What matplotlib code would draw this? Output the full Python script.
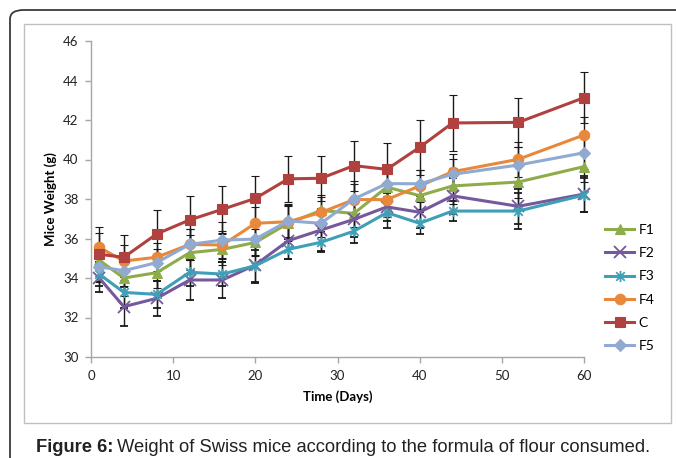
import numpy as np
import matplotlib.pyplot as plt
from matplotlib.path import Path
from matplotlib.patches import FancyBboxPatch, Rectangle

days = [1, 4, 8, 12, 16, 20, 24, 28, 32, 36, 40, 44, 52, 60]

f1 = [34.9, 34.0, 34.27, 35.28, 35.45, 35.8, 36.77, 37.42, 37.27, 38.6, 38.17, 38.66, 38.86, 39.64]
f2 = [34.0, 32.55, 32.97, 33.9, 33.9, 34.66, 35.89, 36.43, 36.97, 37.6, 37.33, 38.16, 37.63, 38.25]
f3 = [34.2, 33.27, 33.17, 34.29, 34.2, 34.62, 35.45, 35.81, 36.37, 37.31, 36.77, 37.39, 37.39, 38.2]
f4 = [35.55, 34.86, 35.05, 35.7, 35.67, 36.77, 36.85, 37.32, 37.97, 37.97, 38.66, 39.38, 40.01, 41.24]
c = [35.2, 35.05, 36.23, 36.94, 37.48, 38.03, 39.02, 39.05, 39.69, 39.5, 40.62, 41.85, 41.88, 43.13]
f5 = [34.57, 34.37, 34.78, 35.7, 35.92, 35.97, 36.89, 36.77, 38.0, 38.78, 38.77, 39.25, 39.72, 40.34]

f1_err = [0.8, 0.9, 0.8, 0.9, 0.8, 0.7, 0.9, 0.8, 0.7, 0.8, 0.7, 0.9, 0.8, 0.8]
f2_err = [0.7, 1.0, 0.9, 1.0, 0.9, 0.93, 0.94, 1.06, 0.9, 0.7, 0.8, 0.9, 0.9, 0.9]
f3_err = [0.6, 0.8, 0.7, 0.7, 0.6, 0.8, 0.5, 0.5, 0.6, 0.76, 0.55, 0.5, 0.9, 0.85]
f4_err = [0.75, 0.8, 0.7, 0.8, 0.7, 0.8, 0.9, 0.8, 0.8, 0.9, 0.8, 0.9, 0.9, 0.9]
c_err = [1.4, 1.15, 1.2, 1.2, 1.2, 1.13, 1.18, 1.13, 1.27, 1.35, 1.4, 1.4, 1.25, 1.3]
f5_err = [0.7, 0.8, 0.7, 0.8, 0.9, 0.8, 0.8, 0.7, 0.9, 0.8, 0.7, 0.8, 0.9, 0.8]

caption_bold = "Figure 6:"
caption_rest = "Weight of Swiss mice according to the formula of flour consumed."

# excel style "star": an X with a vertical bar through it
star = Path(
    [(-1, -1), (1, 1), (-1, 1), (1, -1), (0, -1.3), (0, 1.3)],
    [Path.MOVETO, Path.LINETO, Path.MOVETO, Path.LINETO, Path.MOVETO, Path.LINETO],
)

series = [
    ("F1", f1, f1_err, "#8EAC4A", "^", 7.5),
    ("F2", f2, f2_err, "#76599C", "x", 8),
    ("F3", f3, f3_err, "#3F9FB6", star, 8),
    ("F4", f4, f4_err, "#E8883A", "o", 7.5),
    ("C", c, c_err, "#B0413E", "s", 7.5),
    ("F5", f5, f5_err, "#90AAD2", "D", 6),
]

plt.rcParams["font.family"] = ["Lato", "DejaVu Sans"]

fig = plt.figure(figsize=(6.76, 4.58), dpi=100)
ax = fig.add_axes([91 / 676, 1 - 357 / 458, (584 - 91) / 676, (357 - 41) / 458])

for name, vals, err, col, mk, ms in series:
    hollow = mk == "x" or isinstance(mk, Path)
    ax.errorbar(
        days, vals, yerr=err,
        color=col, ecolor="#1a1a1a", elinewidth=1.0, capsize=2.6, capthick=1.0,
        linewidth=2.2, marker=mk, markersize=ms,
        markerfacecolor="none" if hollow else col,
        markeredgecolor=col, markeredgewidth=1.3 if hollow else 0.8,
        label=name, clip_on=False,
    )

ax.set_xlim(0, 60)
ax.set_ylim(30, 46)
ax.set_xticks(range(0, 61, 10))
ax.set_yticks(range(30, 47, 2))
for s in ("top", "right"):
    ax.spines[s].set_visible(False)
for s in ("left", "bottom"):
    ax.spines[s].set_color("#A6A6A6")
    ax.spines[s].set_linewidth(1.0)
ax.tick_params(colors="#A6A6A6", labelcolor="#222222", length=4, width=1.0,
               labelsize=9.5, pad=5)

ax.set_xlabel("Time (Days)", fontsize=9.5, fontweight="bold", labelpad=6)
ax.set_ylabel("Mice Weight (g)", fontsize=9.5, fontweight="bold", labelpad=4)

handles, labels = ax.get_legend_handles_labels()
handles = [h[0] for h in handles]
ax.legend(handles, labels, loc="center left", bbox_to_anchor=(598 / 676, 1 - 288 / 458),
          bbox_transform=fig.transFigure, frameon=False, fontsize=10,
          handlelength=2.1, handletextpad=0.3, labelspacing=0.8, borderpad=0)

# frames around the chart
fig.patches.append(Rectangle((24 / 676, 1 - 423 / 458), (671 - 24) / 676, (423 - 24) / 458,
                             transform=fig.transFigure, fill=False, edgecolor="#C0C0C0",
                             linewidth=1.0))
fig.patches.append(FancyBboxPatch((10 / 676, -0.2), 1.2, 1.2 - 10 / 458,
                                  boxstyle="round,pad=0,rounding_size=0.02",
                                  transform=fig.transFigure, fill=False,
                                  edgecolor="#3a3a3a", linewidth=1.3))

cap_y = 1 - 447 / 458
t = fig.text(36 / 676, cap_y, caption_bold, fontsize=13.2, fontweight="bold",
             family="Liberation Sans", va="center", ha="left", color="#222222")
fig.canvas.draw()
bb = t.get_window_extent()
fig.text((bb.x1 + 4) / 676, cap_y, caption_rest,
         fontsize=13.2, family="Liberation Sans", va="center", ha="left", color="#222222")

fig.savefig("out.png", dpi=100)
